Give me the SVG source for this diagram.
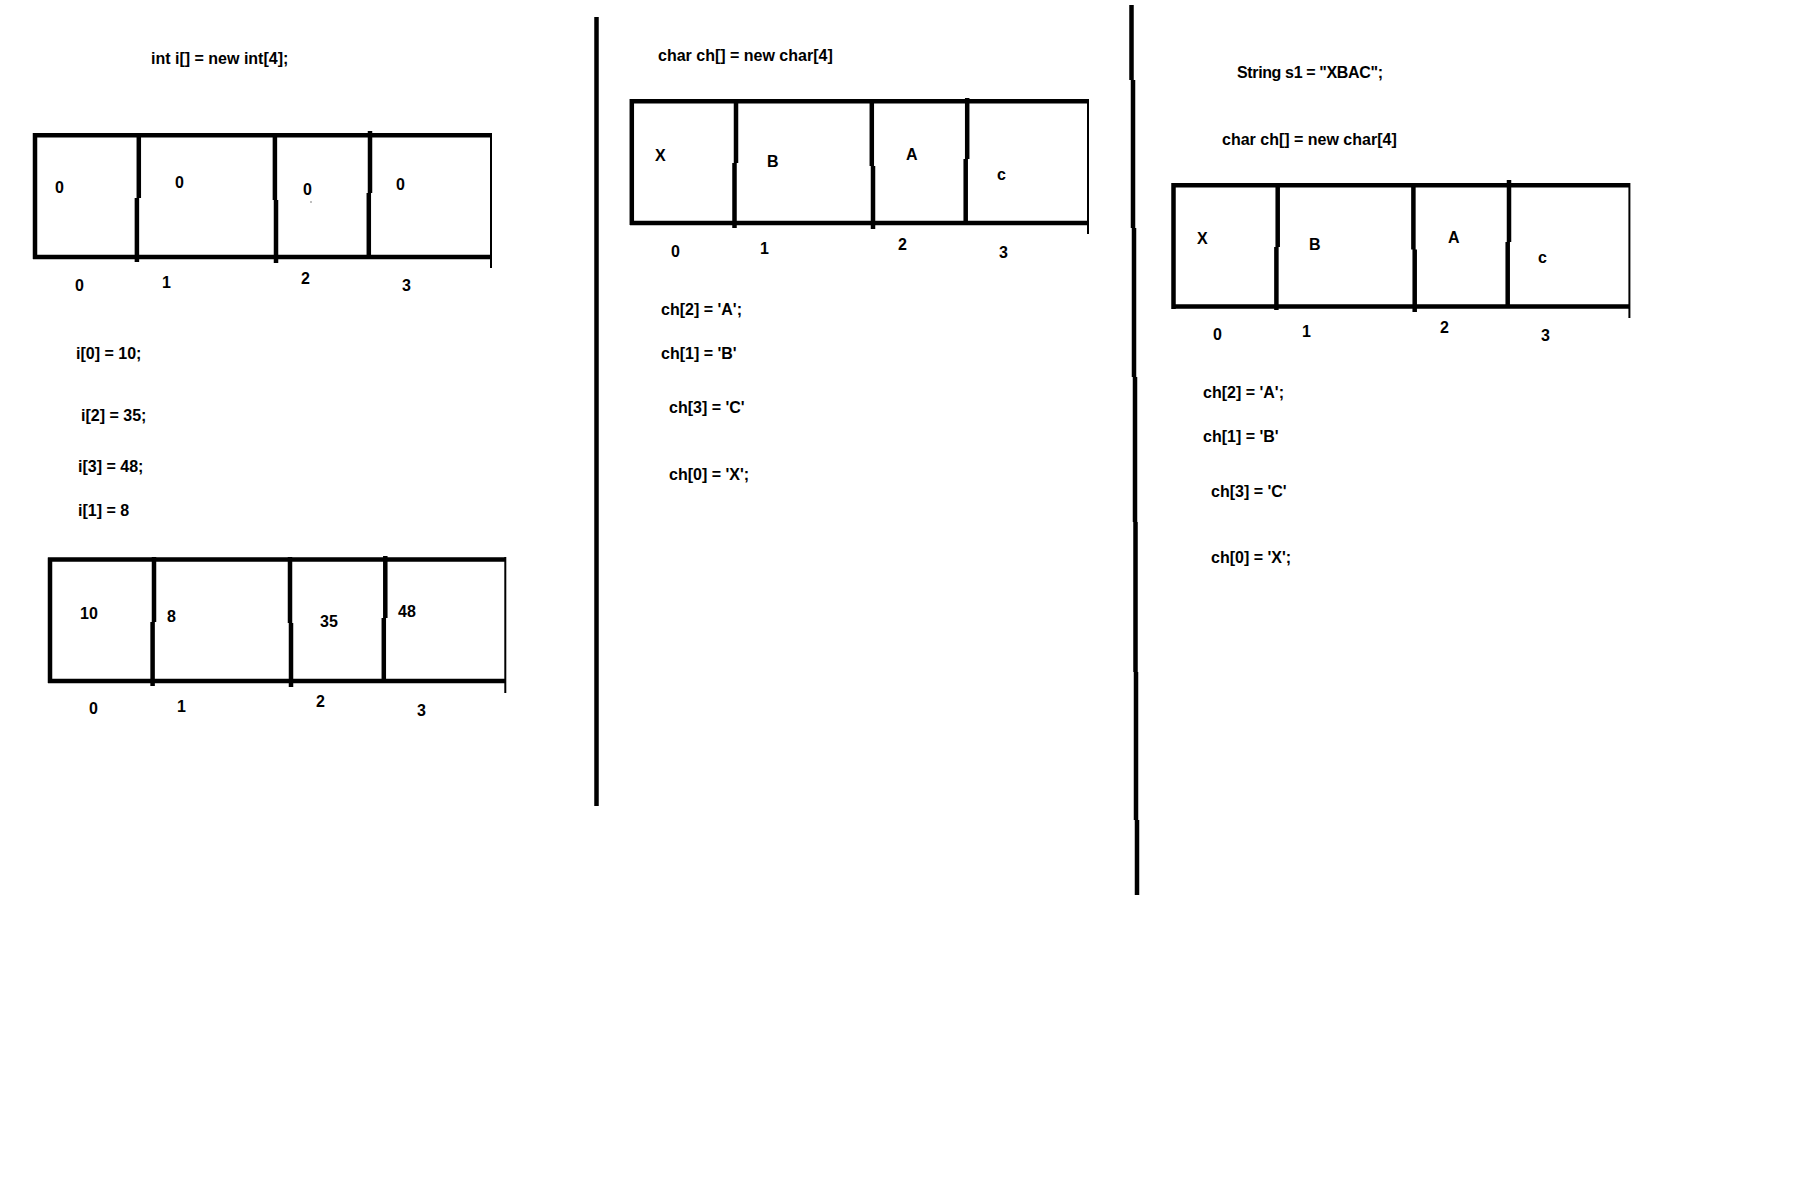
<svg xmlns="http://www.w3.org/2000/svg" width="1798" height="1180" viewBox="0 0 1798 1180">
<style>
.k{stroke:#000;stroke-width:4.5;fill:none;stroke-linecap:butt}
.n{stroke:#000;stroke-width:2;fill:none}
.s{stroke:#000;stroke-width:4.5;fill:none}
text{font-family:"Liberation Sans",Arial,sans-serif;font-weight:bold;font-size:16px;fill:#000}
</style>
<rect width="1798" height="1180" fill="#fff"/>
<g id="separators">
<path class="s" d="M596.5 17 V806"/>
<path class="s" d="M1131.5 5 V80 M1133 80 V228 M1134 228 V377 M1135 377 V522 M1135.5 522 V672 M1136 672 V820 M1137 820 V895"/>
</g>
<g id="int-array-initial">
<text x="151" y="64">int i[] = new int[4];</text>
<path class="k" d="M33 135.3 H491 M33 257 H491 M35 133 V259"/>
<path class="n" d="M491 133 V268"/>
<path class="k" d="M138.8 133 V198 M136.9 198 V262 M274.9 133 V200 M276 200 V263 M370 131 V193 M368.8 193 V255"/>
<text x="55" y="193">0</text>
<text x="175" y="188">0</text>
<text x="303" y="195">0</text>
<text x="396" y="190">0</text>
<rect x="310.5" y="201.5" width="1" height="1" fill="#000"/>
<text x="75" y="291">0</text>
<text x="162" y="288">1</text>
<text x="301" y="284">2</text>
<text x="402" y="291">3</text>
</g>
<g id="int-assignments">
<text x="76" y="359">i[0] = 10;</text>
<text x="81" y="421">i[2] = 35;</text>
<text x="78" y="472">i[3] = 48;</text>
<text x="78" y="516">i[1] = 8</text>
</g>
<g id="int-array-filled">
<path class="k" d="M48 559.5 H506 M48 681 H506 M50 557.5 V683"/>
<path class="n" d="M505.3 557 V693"/>
<path class="k" d="M154 557 V622 M152.6 622 V686 M290 557 V623 M291 623 V687 M385.3 556 V618 M383.8 618 V681"/>
<text x="80" y="619">10</text>
<text x="167" y="622">8</text>
<text x="320" y="627">35</text>
<text x="398" y="617">48</text>
<text x="89" y="714">0</text>
<text x="177" y="712">1</text>
<text x="316" y="707">2</text>
<text x="417" y="716">3</text>
</g>
<g id="char-array">
<text x="658" y="61">char ch[] = new char[4]</text>
<path class="k" d="M630 101.3 H1088 M630 223 H1088 M631.8 99 V225"/>
<path class="n" d="M1088 99 V234"/>
<path class="k" d="M736 99 V163 M734.5 163 V228 M871.8 99 V166 M873 166 V229 M967.2 98 V159 M965.7 159 V222"/>
<text x="655" y="161">X</text>
<text x="767" y="167">B</text>
<text x="906" y="160">A</text>
<text x="997" y="180">c</text>
<text x="671" y="257">0</text>
<text x="760" y="254">1</text>
<text x="898" y="250">2</text>
<text x="999" y="258">3</text>
</g>
<g id="char-assignments">
<text x="661" y="315">ch[2] = 'A';</text>
<text x="661" y="359">ch[1] = 'B'</text>
<text x="669" y="413">ch[3] = 'C'</text>
<text x="669" y="480">ch[0] = 'X';</text>
</g>
<g id="string-array">
<text x="1237" y="78" textLength="146">String s1 = "XBAC";</text>
<text x="1222" y="145">char ch[] = new char[4]</text>
<path class="k" d="M1171.4 185.2 H1630 M1171.4 306.6 H1630 M1173.5 183 V309"/>
<path class="n" d="M1629.4 183 V318"/>
<path class="k" d="M1277.7 185 V247 M1276.4 247 V310 M1413.4 185 V249.5 M1414.7 249.5 V312 M1509 180 V242 M1507.7 242 V306"/>
<text x="1197" y="244">X</text>
<text x="1309" y="250">B</text>
<text x="1448" y="243">A</text>
<text x="1538" y="263">c</text>
<text x="1213" y="340">0</text>
<text x="1302" y="337">1</text>
<text x="1440" y="333">2</text>
<text x="1541" y="341">3</text>
</g>
<g id="string-assignments">
<text x="1203" y="398">ch[2] = 'A';</text>
<text x="1203" y="442">ch[1] = 'B'</text>
<text x="1211" y="497">ch[3] = 'C'</text>
<text x="1211" y="563">ch[0] = 'X';</text>
</g>
</svg>
